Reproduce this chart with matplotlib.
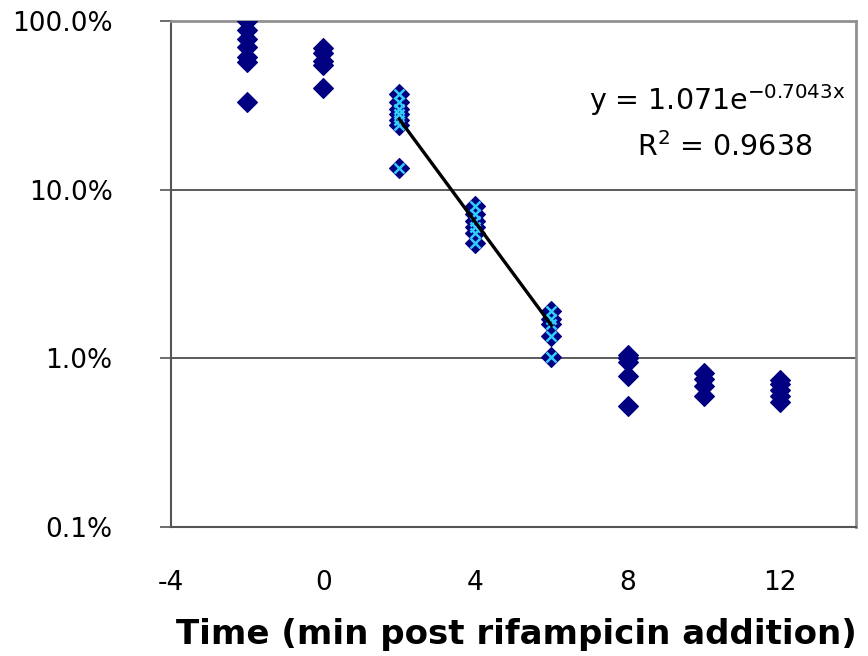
import numpy as np
import matplotlib
matplotlib.use('Agg')
import matplotlib.pyplot as plt
from matplotlib.ticker import FixedLocator, FuncFormatter

# fraction of RNA remaining at each time point (min after rifampicin)
t_m2 = [1.00, 0.88, 0.78, 0.70, 0.61, 0.57, 0.33]
t_0 = [0.69, 0.65, 0.58, 0.55, 0.40]
t_2 = [0.37, 0.33, 0.30, 0.28, 0.26, 0.24, 0.135]
t_4 = [0.080, 0.072, 0.065, 0.060, 0.055, 0.048]
t_6 = [0.019, 0.017, 0.016, 0.0135, 0.0102]
t_8 = [0.0105, 0.0100, 0.0095, 0.0078, 0.0052]
t_10 = [0.0082, 0.0075, 0.0068, 0.0060]
t_12 = [0.0074, 0.0070, 0.0065, 0.0060, 0.0055]

times = [-2, 0, 2, 4, 6, 8, 10, 12]
values = [t_m2, t_0, t_2, t_4, t_6, t_8, t_10, t_12]
fit_times = [2, 4, 6]

# exponential fit over the decay phase
fit_a, fit_k = 1.071, -0.7043
fit_r2 = 0.9638

navy = '#000080'
cyan = '#33CCFF'

fig = plt.figure(figsize=(8.68, 6.56), dpi=100)
ax = fig.add_axes([0.197, 0.197, 0.789, 0.771])

for t, v in zip(times, values):
    ax.plot([t] * len(v), v, ls='none', marker='D', ms=10.3, mfc=navy,
            mec=navy, mew=0.8, zorder=3)
    if t in fit_times:
        ax.plot([t] * len(v), v, ls='none', marker='x', ms=7.5, mec=cyan,
                mew=1.8, zorder=4)

xf = np.linspace(fit_times[0], fit_times[-1], 50)
ax.plot(xf, fit_a * np.exp(fit_k * xf), color='black', lw=2.4, zorder=5)

ax.set_yscale('log')
ax.set_ylim(0.001, 1.0)
ax.set_xlim(-4, 14)
ax.yaxis.set_major_locator(FixedLocator([0.001, 0.01, 0.1, 1.0]))
ax.yaxis.set_minor_locator(FixedLocator([]))
ax.yaxis.set_major_formatter(FuncFormatter(lambda v, p: f'{v * 100:.1f}%'))
ax.set_xticks([-4, 0, 4, 8, 12])
ax.set_xticklabels(['-4', '0', '4', '8', '12'])

ax.tick_params(axis='y', length=8, width=1.2, color='#555555', pad=34,
               labelsize=19)
ax.tick_params(axis='x', length=0, pad=31, labelsize=19)

for y in [0.01, 0.1]:
    ax.axhline(y, color='#404040', lw=1.2, zorder=1)

ax.spines['left'].set_color('#555555')
ax.spines['bottom'].set_color('#555555')
ax.spines['left'].set_linewidth(1.5)
ax.spines['bottom'].set_linewidth(1.5)
ax.spines['top'].set_color('#909090')
ax.spines['right'].set_color('#909090')
ax.spines['top'].set_linewidth(2.0)
ax.spines['right'].set_linewidth(2.0)

ax.set_xlabel('Time (min post rifampicin addition)', fontsize=24.5,
              fontweight='bold', va='center')
ax.xaxis.set_label_coords(0.505, -0.213)

ax.text(0.984, 0.843, r'y = 1.071e$^{\mathregular{-0.7043x}}$',
        transform=ax.transAxes, ha='right', va='center', fontsize=20.5)
ax.text(0.937, 0.75, r'R$^{\mathregular{2}}$ = 0.9638',
        transform=ax.transAxes, ha='right', va='center', fontsize=20.5)

fig.savefig('out.png', dpi=100)
